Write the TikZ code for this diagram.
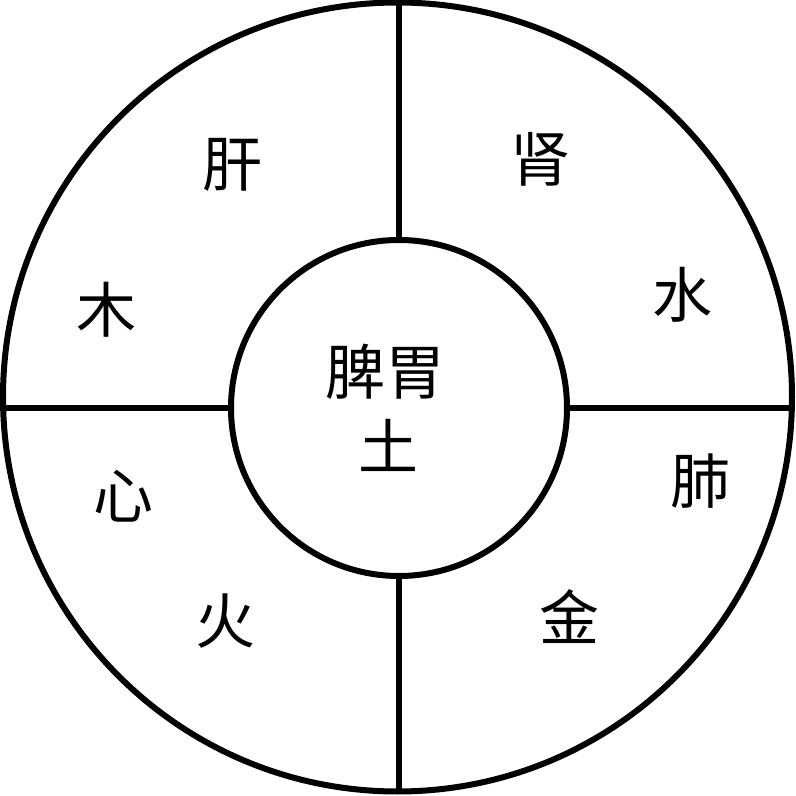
\documentclass[tikz,border=0pt]{standalone}
\usepackage{fontspec}
\newfontfamily\cjk{Noto Sans CJK SC}
\usepackage{tikz}
\tikzset{
	ring/.style={draw, circle, line width=6pt, inner sep=0pt},
	zang/.style={font=\cjk\fontsize{60}{72}\selectfont, inner sep=0pt}
}

\begin{document}
\begin{tikzpicture}[x=1pt, y=1pt]
				%%%%% START %%%%%
				\useasboundingbox (0, 0) rectangle (796, 796);
				
				\node[ring, minimum size=789pt] (outer) at (397.5, 399) {};
				\node[ring, minimum size=336pt] (inner) at (399, 388) {};
				
				\draw[line width=6pt] (inner.north) -- (inner.north |- outer.north);
				\draw[line width=6pt] (inner.south) -- (inner.south |- outer.south);
				\draw[line width=6pt] (inner.west) -- (inner.west -| outer.west);
				\draw[line width=6pt] (inner.east) -- (inner.east -| outer.east);
				
				\node[zang] (piwei) at (385, 424) {脾胃};
				\node[zang] (tu) at (388, 351) {土};
				
				\node[zang] (gan) at (232, 631) {肝};
				\node[zang] (mu) at (106, 486) {木};
				\node[zang] (shen) at (540, 637) {肾};
				\node[zang] (shui) at (682, 501) {水};
				\node[zang] (xin) at (123, 300) {心};
				\node[zang] (huo) at (225, 175) {火};
				\node[zang] (fei) at (700, 315) {肺};
				\node[zang] (jin) at (569, 179) {金};
				%%%%% END %%%%%
\end{tikzpicture}
\end{document}
